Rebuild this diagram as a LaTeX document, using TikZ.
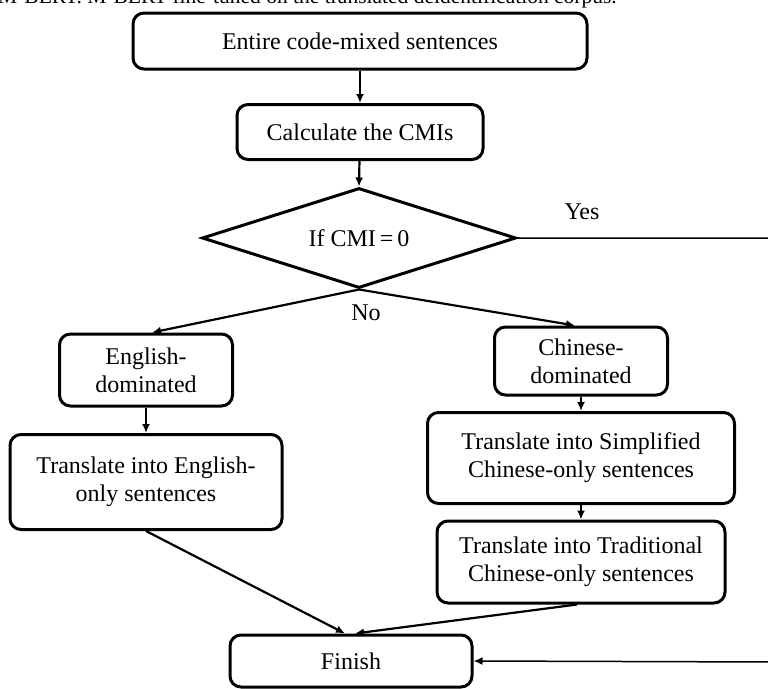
\documentclass[tikz,border=0pt]{standalone}
\usepackage{fontspec}
\setmainfont{Liberation Serif}
\usetikzlibrary{arrows.meta,shapes.geometric}
\begin{document}
\begin{tikzpicture}[x=1pt,y=-1pt,
  box/.style={draw, line width=3pt, rounded corners=11pt, align=center, inner sep=0pt, font=\fontsize{24}{28}\selectfont},
  arr/.style={line width=2.2pt, -{Latex[length=9pt,width=8pt]}},
  thinarr/.style={line width=1.5pt, -{Latex[length=9pt,width=8pt]}},
  lbl/.style={font=\fontsize{24}{28}\selectfont, inner sep=0pt}]
\useasboundingbox (0,0) rectangle (768,688);
\clip (0,0) rectangle (768,688);
\node[lbl, anchor=base west, font=\fontsize{21.5}{25}\selectfont] (cap) at (-2,4) {M-BERT. M-BERT fine-tuned on the translated deidentification corpus.};
\node[box, minimum width=454pt, minimum height=56pt] (b1) at (360,41) {Entire code-mixed sentences};
\node[box, minimum width=246pt, minimum height=55pt] (b2) at (360,132) {Calculate the CMIs};
\node[draw, diamond, aspect=3.14, line width=3pt, inner sep=0pt, minimum width=314pt, minimum height=100pt, font=\fontsize{24}{28}\selectfont] (dia) at (359,238) {If CMI\,=\,0};
\node[box, minimum width=173pt, minimum height=72pt] (eng) at (146,370) {English-\\dominated};
\node[box, minimum width=272pt, minimum height=95pt] (et) at (146,482) {Translate into English-\\only sentences};
\node[box, minimum width=173pt, minimum height=68pt] (chi) at (581,361) {Chinese-\\dominated};
\node[box, minimum width=307pt, minimum height=91pt] (simp) at (581,458) {Translate into Simplified\\Chinese-only sentences};
\node[box, minimum width=288pt, minimum height=82pt] (trad) at (581,562) {Translate into Traditional\\Chinese-only sentences};
\node[box, minimum width=242pt, minimum height=52pt] (fin) at (351,661) {Finish};
\node[lbl] (yes) at (582,212) {Yes};
\node[lbl] (no) at (366,313) {No};
\coordinate (rt) at (776,238);
\coordinate (rb) at (776,662);
\draw[arr] (b1) -- (b2);
\draw[arr] (b2) -- (dia.north);
\draw[arr] (dia.south) -- ([xshift=6pt]eng.north);
\draw[arr] (dia.south) -- ([xshift=-6pt]chi.north);
\draw[arr] (eng) -- (et);
\draw[arr] (chi) -- (simp);
\draw[arr] (simp) -- (trad);
\draw[arr] (et.south) -- ([xshift=-6pt]fin.north);
\draw[arr] ([xshift=-4pt]trad.south) -- ([xshift=4pt]fin.north);
\draw[thinarr] (dia.east) -- (rt) -- (rb) -- (fin.east);
\end{tikzpicture}
\end{document}
